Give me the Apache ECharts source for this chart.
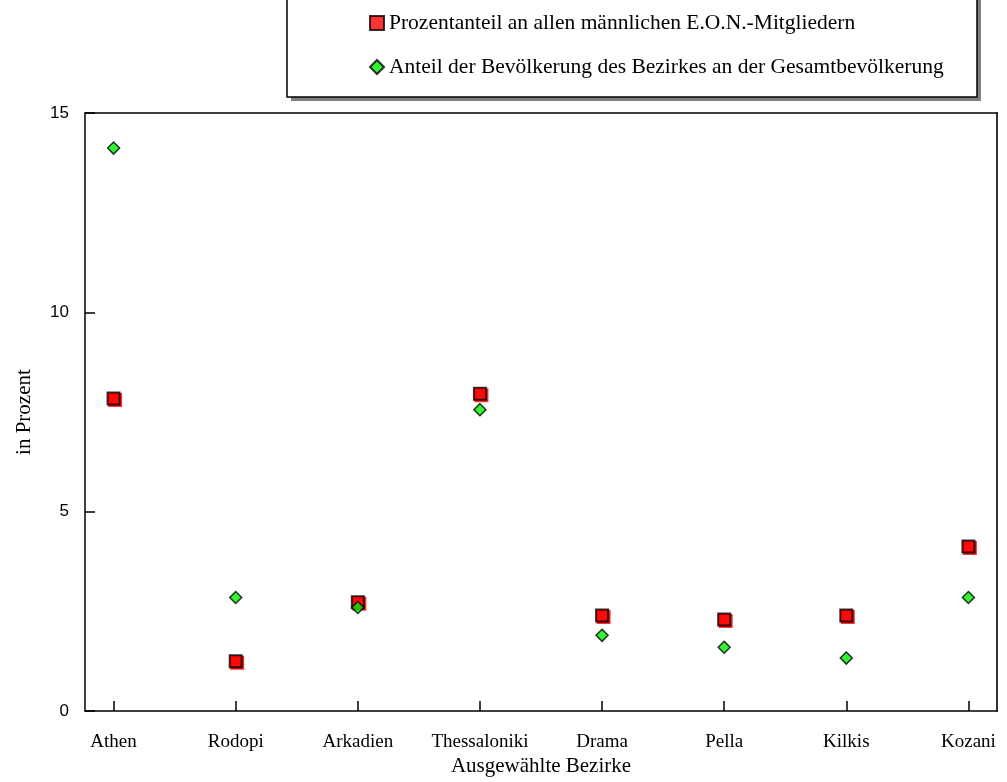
<!DOCTYPE html>
<html>
<head>
<meta charset="utf-8">
<script src="https://cdn.jsdelivr.net/npm/echarts@6/dist/echarts.min.js"></script>
<style>html,body{margin:0;padding:0;background:#fff}#c{width:1007px;height:782px}</style>
</head>
<body>
<div id="c"></div>
<script>
const categories = ['Athen','Rodopi','Arkadien','Thessaloniki','Drama','Pella','Kilkis','Kozani'];
const eonShare = [7.84, 1.25, 2.73, 7.96, 2.40, 2.30, 2.40, 4.13];
const popShare = [14.12, 2.85, 2.60, 7.56, 1.90, 1.60, 1.33, 2.85];
const yTicks = [0, 5, 10, 15];
const seriesNames = ['Prozentanteil an allen männlichen E.O.N.-Mitgliedern','Anteil der Bevölkerung des Bezirkes an der Gesamtbevölkerung'];

const serif = '"Liberation Serif","DejaVu Serif",serif';
const sans = '"Liberation Sans",Arial,sans-serif';
const idx = categories.map((_, i) => i);

const chart = echarts.init(document.getElementById('c'));
chart.setOption({
  animation: false,
  backgroundColor: '#fff',
  grid: {left: 85, right: 10, top: 113, bottom: 70, containLabel: false},
  graphic: [
    {type: 'rect', z: 0, silent: true, shape: {x: 291, y: -10, width: 690, height: 111},
      style: {fill: '#808080'}},
    {type: 'rect', z: 1, silent: true, shape: {x: 287, y: -10, width: 690, height: 107},
      style: {fill: '#fff', stroke: '#000', lineWidth: 1.5}}
  ],
  legend: {
    z: 10,
    orient: 'vertical',
    left: 369,
    top: 12,
    padding: 0,
    itemGap: 22,
    itemWidth: 14,
    itemHeight: 14,
    textStyle: {fontFamily: serif, fontSize: 21.5, color: '#000'},
    data: seriesNames
  },
  xAxis: [{
    type: 'value',
    min: -0.234,
    max: 7.234,
    splitLine: {show: false},
    axisLine: {onZero: false, lineStyle: {color: '#000', width: 1.5}},
    axisTick: {show: true, inside: true, length: 10, customValues: idx, lineStyle: {color: '#000', width: 1.5}},
    axisLabel: {customValues: idx, margin: 21, fontFamily: serif, fontSize: 19, color: '#000',
      formatter: v => categories[Math.round(v)]},
    name: 'Ausgewählte Bezirke',
    nameLocation: 'middle',
    nameGap: 43,
    nameTextStyle: {fontFamily: serif, fontSize: 21, color: '#000'}
  }, {
    type: 'value', position: 'top', min: -0.234, max: 7.234,
    splitLine: {show: false}, axisTick: {show: false}, axisLabel: {show: false},
    axisLine: {show: true, onZero: false, lineStyle: {color: '#000', width: 1.5}}
  }],
  yAxis: [{
    type: 'value',
    min: 0,
    max: 15,
    interval: 5,
    splitLine: {show: false},
    axisLine: {show: true, onZero: false, lineStyle: {color: '#000', width: 1.5}},
    axisTick: {show: true, inside: true, length: 10, lineStyle: {color: '#000', width: 1.5}},
    axisLabel: {margin: 16, fontFamily: sans, fontSize: 17, color: '#000',
      formatter: v => yTicks.includes(v) ? String(v) : ''},
    name: 'in Prozent',
    nameLocation: 'middle',
    nameGap: 50,
    nameTextStyle: {fontFamily: serif, fontSize: 21, color: '#000'}
  }, {
    type: 'value', position: 'right', min: 0, max: 15,
    splitLine: {show: false}, axisTick: {show: false}, axisLabel: {show: false},
    axisLine: {show: true, onZero: false, lineStyle: {color: '#333', width: 2}}
  }],
  series: [{
    name: seriesNames[0],
    type: 'scatter',
    symbol: 'rect',
    symbolSize: 12,
    itemStyle: {color: '#ff0000', borderColor: '#000', borderWidth: 2,
      shadowColor: '#ff0000', shadowBlur: 0, shadowOffsetX: 1.5, shadowOffsetY: 1.5},
    data: eonShare.map((v, i) => [i, v]),
    z: 3
  }, {
    name: seriesNames[1],
    type: 'scatter',
    symbol: 'diamond',
    symbolSize: 12,
    itemStyle: {color: '#00f000', borderColor: '#000', borderWidth: 1.5},
    data: popShare.map((v, i) => [i, v]),
    z: 4
  }]
});
</script>
</body>
</html>
